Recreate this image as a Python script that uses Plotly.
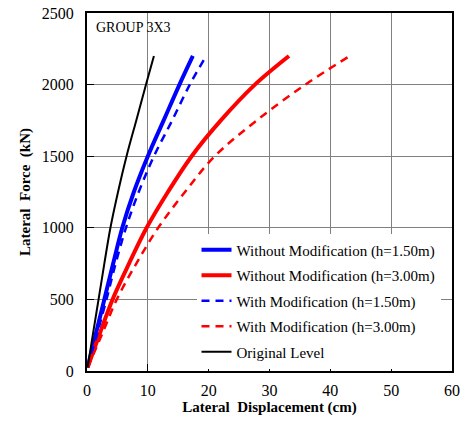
import plotly.graph_objects as go

# Lateral force levels (kN) at which displacements were recorded
force_kn = [25, 250, 500, 750, 1000, 1250, 1500, 1750, 2000, 2200]

# Lateral displacement (cm) for each configuration
disp_orig = [0.1, 0.95, 1.9, 2.85, 3.85, 5.1, 6.5, 8.1, 9.7, 11.0]
disp_wo_150 = [0.1, 1.4, 2.85, 4.3, 5.8, 7.7, 10.0, 12.6, 15.2, 17.4]
disp_wo_300 = [0.1, 2.0, 4.2, 6.9, 9.8, 13.3, 17.2, 22.0, 27.6, 33.2]
disp_w_150 = [0.1, 1.6, 3.2, 4.7, 6.4, 8.5, 11.0, 14.0, 16.9, 19.6]
disp_w_300 = [0.1, 2.4, 4.9, 8.1, 11.7, 16.1, 21.0, 27.9, 35.9, 43.2]

x_ticks = [0, 10, 20, 30, 40, 50, 60]
y_ticks = [0, 500, 1000, 1500, 2000, 2500]

series = [
    ("Without Modification (h=1.50m)", disp_wo_150, "#0000FF", 4, "solid"),
    ("Without Modification (h=3.00m)", disp_wo_300, "#FF0000", 4, "solid"),
    ("With Modification (h=1.50m)", disp_w_150, "#0000FF", 2.5, "8px,6px"),
    ("With Modification (h=3.00m)", disp_w_300, "#FF0000", 2.5, "8px,6px"),
    ("Original Level", disp_orig, "#000000", 2, "solid"),
]

serif = "Times New Roman, Liberation Serif, DejaVu Serif, serif"

fig = go.Figure()
for i, (name, xs, color, width, dash) in enumerate(series):
    fig.add_trace(go.Scatter(
        x=xs, y=force_kn, mode="lines", name=name,
        legendgroup=f"g{i}",
        line=dict(color=color, width=width, dash=dash, shape="spline", smoothing=1.0),
    ))

axis_common = dict(
    showgrid=True, gridcolor="#808080", gridwidth=1,
    showline=True, linecolor="black", linewidth=2, mirror=True,
    ticks="inside", ticklen=7, tickcolor="black", tickwidth=1,
    zeroline=False, automargin=False,
    tickfont=dict(family=serif, size=16, color="black"),
)

fig.update_layout(
    width=463, height=425,
    margin=dict(l=87, r=11, t=13, b=54),
    paper_bgcolor="white", plot_bgcolor="white",
    font=dict(family=serif, color="black"),
    xaxis=dict(
        range=[0, 60], tickvals=x_ticks, ticklabelstandoff=4,
        title=dict(text="<b>Lateral  Displacement (cm)</b>",
                   font=dict(family=serif, size=15), standoff=2),
        **axis_common,
    ),
    yaxis=dict(
        range=[0, 2500], tickvals=y_ticks, ticklabelstandoff=8,
        title=dict(text="<b>Lateral  Force  (kN)</b>",
                   font=dict(family=serif, size=15), standoff=8),
        **axis_common,
    ),
    legend=dict(
        x=0.30, y=0.384, xanchor="left", yanchor="top",
        bgcolor="white", borderwidth=0,
        font=dict(family=serif, size=15, color="black"),
        traceorder="grouped", tracegroupgap=3,
        itemwidth=30,
    ),
    showlegend=True,
    annotations=[dict(
        text="GROUP 3X3", xref="paper", yref="paper",
        x=0.02, y=0.985, xanchor="left", yanchor="top",
        showarrow=False, font=dict(family=serif, size=14, color="black"),
    )],
)

fig.write_html("out.html")
